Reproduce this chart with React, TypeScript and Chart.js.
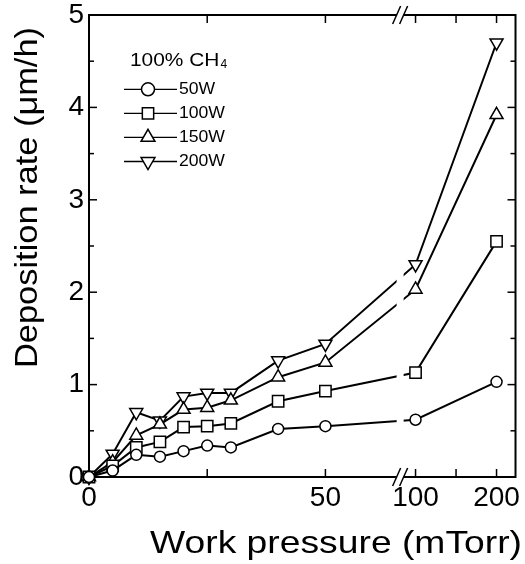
import React, { useEffect, useRef } from 'react';
import { Chart, registerables } from 'chart.js';

Chart.register(...registerables);

// ---------- data ----------
const pressures = [0, 5, 10, 15, 20, 25, 30, 40, 50, 100, 200];
const rate50W = [0, 0.07, 0.24, 0.22, 0.28, 0.34, 0.32, 0.52, 0.55, 0.62, 1.03];
const rate100W = [0, 0.12, 0.32, 0.38, 0.54, 0.55, 0.58, 0.82, 0.93, 1.13, 2.55];
const rate150W = [0, 0.16, 0.45, 0.57, 0.73, 0.75, 0.83, 1.08, 1.24, 2.03, 3.92];
const rate200W = [0, 0.25, 0.7, 0.61, 0.87, 0.91, 0.91, 1.26, 1.44, 2.3, 4.7];
const seriesLabels = ['50W', '100W', '150W', '200W'];
const legendTitle = '100% CH';
const legendTitleSub = '4';
const xTickPressures = [0, 50, 100, 200];
const xMinorPressures = [25, 150];
const yMin = 0;
const yMax = 5;
const xTitle = 'Work pressure (mTorr)';
const yTitle = 'Deposition rate (\u03bcm/h)';

// ---------- broken x axis mapping (layout constants) ----------
const LOW_END = 50;
const HIGH_START = 100;
const HIGH_ORIGIN = 69.06;
const HIGH_SLOPE = 0.1713;
const BREAK_POS = 65.8;
const X_MAX = 90.2;
const xPos = (p: number) => (p <= LOW_END ? p : HIGH_ORIGIN + (p - HIGH_START) * HIGH_SLOPE);

const FONT = '"Liberation Sans", Arial, Helvetica, sans-serif';

type Marker = { style: string; radius: number; rotation: number; legendRadius: number };
const markers: Marker[] = [
  { style: 'circle', radius: 5.5, rotation: 0, legendRadius: 6.5 },
  { style: 'rect', radius: 8, rotation: 0, legendRadius: 8 },
  { style: 'triangle', radius: 7.5, rotation: 0, legendRadius: 8 },
  { style: 'triangle', radius: 7.5, rotation: 180, legendRadius: 8 },
];

function drawMarker(ctx: CanvasRenderingContext2D, m: Marker, x: number, y: number) {
  const r = m.legendRadius;
  ctx.beginPath();
  if (m.style === 'circle') {
    ctx.arc(x, y, r, 0, Math.PI * 2);
  } else if (m.style === 'rect') {
    const s = Math.SQRT1_2 * r;
    ctx.rect(x - s, y - s, 2 * s, 2 * s);
  } else {
    let rad = (m.rotation * Math.PI) / 180;
    ctx.moveTo(x + Math.sin(rad) * r, y - Math.cos(rad) * r);
    rad += (2 * Math.PI) / 3;
    ctx.lineTo(x + Math.sin(rad) * r, y - Math.cos(rad) * r);
    rad += (2 * Math.PI) / 3;
    ctx.lineTo(x + Math.sin(rad) * r, y - Math.cos(rad) * r);
    ctx.closePath();
  }
  ctx.fill();
  ctx.stroke();
}

function seg(ctx: CanvasRenderingContext2D, x1: number, y1: number, x2: number, y2: number) {
  ctx.beginPath();
  ctx.moveTo(x1, y1);
  ctx.lineTo(x2, y2);
  ctx.stroke();
}

const decorPlugin = {
  id: 'decor',
  beforeDatasetsDraw(chart: any) {
    const { ctx, chartArea: a, scales } = chart;
    const x = scales.x;
    const y = scales.y;
    ctx.save();
    ctx.strokeStyle = '#000';
    ctx.lineWidth = 2;
    ctx.strokeRect(a.left, a.top, a.right - a.left, a.bottom - a.top);
    ctx.lineWidth = 1.5;
    for (let v = yMin; v <= yMax + 1e-6; v += 0.5) {
      const py = y.getPixelForValue(v);
      const len = Math.abs(v - Math.round(v)) < 1e-6 ? 8 : 5;
      seg(ctx, a.left, py, a.left + len, py);
      seg(ctx, a.right, py, a.right - len, py);
    }
    [...xTickPressures, ...xMinorPressures].forEach((p) => {
      const px = x.getPixelForValue(xPos(p));
      seg(ctx, px, a.bottom, px, a.bottom - 8);
      seg(ctx, px, a.top, px, a.top + 8);
    });
    ctx.restore();
  },
  afterDatasetsDraw(chart: any) {
    const { ctx, chartArea: a, scales } = chart;
    const x = scales.x;
    ctx.save();
    // axis break gap
    const bx = x.getPixelForValue(BREAK_POS);
    ctx.fillStyle = '#fff';
    ctx.fillRect(bx - 3.5, a.top - 3, 7, a.bottom - a.top + 6);
    ctx.strokeStyle = '#000';
    ctx.lineWidth = 1.5;
    [a.top, a.bottom].forEach((yb: number) => {
      [-3.5, 3.5].forEach((off) => {
        seg(ctx, bx + off - 4, yb + 9, bx + off + 4, yb - 9);
      });
    });

    // legend
    ctx.fillStyle = '#000';
    ctx.textBaseline = 'alphabetic';
    ctx.textAlign = 'left';
    ctx.font = `19px ${FONT}`;
    const tw = ctx.measureText(legendTitle).width;
    ctx.save();
    ctx.translate(130, 66);
    ctx.scale(1.1, 1);
    ctx.fillText(legendTitle, 0, 0);
    ctx.restore();
    ctx.font = `12px ${FONT}`;
    ctx.fillText(legendTitleSub, 130 + tw * 1.1 + 1, 67.5);

    const rowY = [89.3, 113.3, 137.3, 161.5];
    seriesLabels.forEach((lab, i) => {
      const ry = rowY[i];
      ctx.strokeStyle = '#000';
      ctx.lineWidth = 1.3;
      seg(ctx, 124, ry, 177, ry);
      ctx.fillStyle = '#fff';
      ctx.lineWidth = 1.5;
      drawMarker(ctx, markers[i], 148, ry);
      ctx.fillStyle = '#000';
      ctx.font = `16px ${FONT}`;
      ctx.textBaseline = 'middle';
      ctx.save();
      ctx.translate(179, ry + 0.5);
      ctx.scale(1.1, 1);
      ctx.fillText(lab, 0, 0);
      ctx.restore();
    });

    // axis titles
    ctx.fillStyle = '#000';
    ctx.textBaseline = 'alphabetic';
    ctx.font = `32px ${FONT}`;
    const wx = ctx.measureText(xTitle).width;
    ctx.save();
    ctx.translate(522, 552.7);
    ctx.scale(372 / wx, 1);
    ctx.textAlign = 'right';
    ctx.fillText(xTitle, 0, 0);
    ctx.restore();

    const wy = ctx.measureText(yTitle).width;
    ctx.save();
    ctx.translate(37, 368);
    ctx.rotate(-Math.PI / 2);
    ctx.scale(341 / wy, 1);
    ctx.textAlign = 'left';
    ctx.fillText(yTitle, 0, 0);
    ctx.restore();

    ctx.restore();
  },
};

const allRates = [rate50W, rate100W, rate150W, rate200W];

export default function App() {
  const ref = useRef<HTMLCanvasElement>(null);
  useEffect(() => {
    if (!ref.current) return;
    const datasets = allRates.map((rates, i) => ({
      label: seriesLabels[i],
      data: pressures.map((p, j) => ({ x: xPos(p), y: rates[j] })),
      borderColor: '#000',
      borderWidth: 2,
      backgroundColor: '#fff',
      pointStyle: markers[i].style,
      pointRadius: markers[i].radius,
      pointRotation: markers[i].rotation,
      pointBorderWidth: 1.5,
      pointBackgroundColor: '#fff',
      pointBorderColor: '#000',
      tension: 0,
      fill: false,
      clip: false,
    }));
    const chart = new Chart(ref.current, {
      type: 'line',
      data: { datasets } as any,
      options: {
        animation: false,
        responsive: false,
        devicePixelRatio: 1,
        events: [],
        layout: { padding: { top: 15, right: 3, left: 0, bottom: 0 } },
        plugins: { legend: { display: false }, tooltip: { enabled: false }, title: { display: false } },
        scales: {
          x: {
            type: 'linear',
            min: 0,
            max: X_MAX,
            grid: { display: false, drawTicks: false },
            border: { display: false },
            afterBuildTicks: (s: any) => {
              s.ticks = xTickPressures.map((p) => ({ value: xPos(p) }));
            },
            afterFit: (s: any) => {
              s.height = 87;
              s.paddingLeft = 0;
              s.paddingRight = 0;
              s.paddingTop = 0;
              s.paddingBottom = 0;
            },
            ticks: {
              autoSkip: false,
              maxRotation: 0,
              minRotation: 0,
              padding: 4,
              color: '#000',
              font: { family: FONT, size: 28 },
              callback: (_v: any, i: number) => String(xTickPressures[i]),
            },
          },
          y: {
            type: 'linear',
            min: yMin,
            max: yMax,
            grid: { display: false, drawTicks: false },
            border: { display: false },
            afterFit: (s: any) => {
              s.width = 89;
              s.paddingTop = 0;
              s.paddingBottom = 0;
              s.paddingLeft = 0;
              s.paddingRight = 0;
            },
            ticks: {
              stepSize: 1,
              padding: 5,
              color: '#000',
              font: { family: FONT, size: 28 },
            },
          },
        },
      } as any,
      plugins: [decorPlugin],
    });
    return () => chart.destroy();
  }, []);
  return (
    <div style={{ position: 'absolute', left: 0, top: 0, width: 525, height: 564, background: '#fff' }}>
      <canvas ref={ref} width={525} height={564} style={{ width: 525, height: 564, display: 'block' }} />
    </div>
  );
}
